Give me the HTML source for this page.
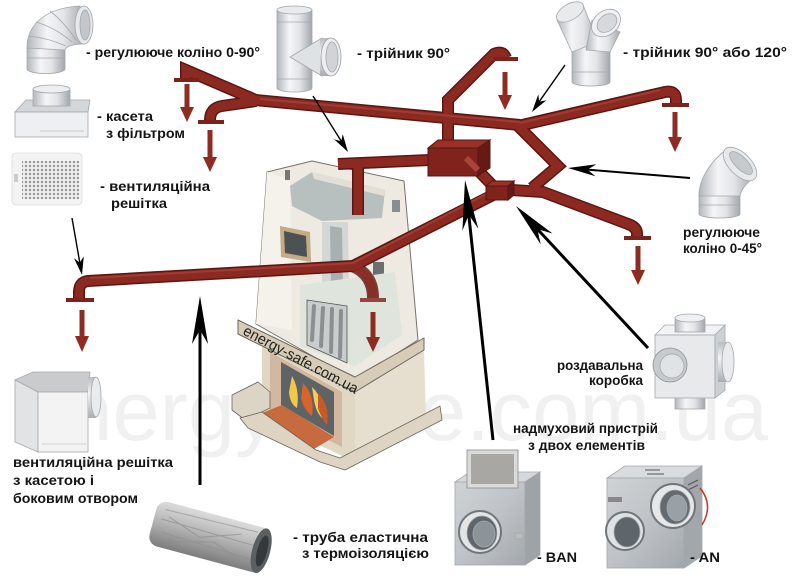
<!DOCTYPE html>
<html><head><meta charset="utf-8"><style>
html,body{margin:0;padding:0;background:#fff;}
svg{display:block;}
text{font-family:"Liberation Sans",Arial,sans-serif;}
</style></head><body>
<svg width="800" height="581" viewBox="0 0 800 581" xmlns="http://www.w3.org/2000/svg">
<defs>
<linearGradient id="mv" x1="0" x2="1" y1="0" y2="0">
<stop offset="0" stop-color="#b2b7bb"/><stop offset=".35" stop-color="#f4f5f6"/><stop offset=".65" stop-color="#e2e4e6"/><stop offset="1" stop-color="#a2a7ac"/>
</linearGradient>
<linearGradient id="mh" x1="0" x2="0" y1="0" y2="1">
<stop offset="0" stop-color="#b8bcc0"/><stop offset=".4" stop-color="#f3f4f5"/><stop offset="1" stop-color="#a9aeb2"/>
</linearGradient>
<linearGradient id="steel" x1="0" x2="1" y1="0" y2="1">
<stop offset="0" stop-color="#cfd3d6"/><stop offset=".5" stop-color="#bfc3c7"/><stop offset="1" stop-color="#a3a8ac"/>
</linearGradient>
<linearGradient id="flex" x1="0" x2="0" y1="0" y2="1">
<stop offset="0" stop-color="#dcdcdc"/><stop offset=".45" stop-color="#b5b5b5"/><stop offset="1" stop-color="#7d7d7d"/>
</linearGradient>
<pattern id="dots" width="4" height="4" patternUnits="userSpaceOnUse"><rect width="4" height="4" fill="#ebebeb"/><circle cx="2" cy="2" r="1.1" fill="#8c8c8c"/></pattern>
</defs>

<!-- watermark -->
<text x="18" y="440" font-size="84" fill="#f0f0f0" textLength="750" lengthAdjust="spacingAndGlyphs">energy-safe.com.ua</text>

<!-- ===== FIREPLACE ===== -->
<g stroke-linejoin="round">
<polygon points="267,172 312,161 404,181 418,340 355,380 256,324" fill="#eeeae1" stroke="#77716a" stroke-width="1"/>
<polygon points="267,172 290,180 292,330 256,324" fill="#f5f2eb"/>
<polygon points="290,186 312,172 385,190 382,218 322,221 292,206" fill="#b7bfbf"/>
<polygon points="312,172 385,190 384,196 314,179" fill="#e2dfd6"/>
<rect x="285" y="170" width="5" height="10" fill="#777"/>
<rect x="392" y="200" width="8" height="12" fill="#8a8d8d"/>
<polygon points="280,226 310,232 311,262 281,257" fill="#c2ab85"/>
<polygon points="284,231 306,236 307,257 285,253" fill="#4c5253"/>
<polygon points="322,222 348,222 349,292 322,292" fill="#d3d7d6"/>
<polygon points="330,226 342,228 343,288 331,288" fill="#a9b0b1"/>
<rect x="373" y="262" width="11" height="20" fill="#6a7071"/>
<polygon points="300,285 395,272 402,335 355,366 300,346" fill="#dfe4dc"/>
<polygon points="307,300 347,306 347,363 307,345" fill="#c9cdcd" stroke="#555" stroke-width=".8"/>
<g stroke="#8a9090" stroke-width="4" stroke-linecap="round">
<line x1="314" y1="306" x2="312" y2="340"/><line x1="323" y1="308" x2="321" y2="346"/><line x1="332" y1="309" x2="331" y2="352"/><line x1="341" y1="311" x2="340" y2="357"/>
</g>
<polygon points="262,338 355,392 355,462 262,418" fill="#e0d7c5"/>
<polygon points="270,352 342,392 342,447 270,410" fill="#d3b8a1"/>
<polygon points="281,362 334,392 334,436 281,405" fill="#5e6465"/>
<path d="M292,376 Q300,390 297,408 Q290,404 289,392 Z" fill="#f0c84a"/>
<path d="M303,383 Q315,395 312,416 Q304,410 301,398 Z" fill="#d8642c"/>
<path d="M312,387 Q324,398 322,418 Q316,412 314,400 Z" fill="#f2cf5a"/>
<path d="M318,393 Q330,405 327,425 Q321,418 318,408 Z" fill="#c75a2a"/>
<polygon points="355,392 424,350 426,420 355,462" fill="#e6dfd0"/>
<polygon points="232,395 258,382 270,392 270,408 245,420 232,410" fill="#dcd4c4" stroke="#6d655a" stroke-width=".8"/>
<polygon points="262,413 282,405 334,437 314,449" fill="#c76a3d"/>
<polygon points="240,418 262,412 316,450 340,458 440,406 442,420 345,470 320,462 248,428" fill="#ddd4c3" stroke="#6d655a" stroke-width=".8"/>
<!-- ledge band on top -->
<polygon points="238,320 355,377 424,338 424,350 355,392 238,334" fill="#d6ccb8" stroke="#6d655a" stroke-width="1"/>
<text x="242" y="334" font-size="15" fill="#1e1e1e" transform="rotate(28 242 334)" textLength="128" lengthAdjust="spacingAndGlyphs">energy-safe.com.ua</text>
</g>

<!-- ===== PIPES ===== -->
<g fill="none" stroke-linejoin="miter" stroke-linecap="butt">
<g stroke="#5a1612" stroke-width="12">
<path d="M186,80 L186,70 L258,101"/>
<path d="M256,101 L222,106 Q210,108 210,120"/>
<path d="M255,100 L520,125"/>
<path d="M518,126 L665,92 Q676,90 676,100 L676,104"/>
<path d="M518,126 L558,166 L532,188"/>
<path d="M512,190 L543,192 L628,224 Q637,227 637,234 L637,237"/>
<path d="M448,145 L448,100 L494,54 Q503,50 506,58"/>
<path d="M338,164 L430,160"/>
<path d="M358,162 L358,215"/>
<path d="M466,158 L497,190"/>
<path d="M495,194 L353,266 L88,281 Q79,282 79,292 L79,298"/>
<path d="M352,266 Q373,274 373,298" opacity=".8"/>
</g>
<g stroke="#8c2a22" stroke-width="9">
<path d="M186,80 L186,70 L258,101"/>
<path d="M256,101 L222,106 Q210,108 210,120"/>
<path d="M255,100 L520,125"/>
<path d="M518,126 L665,92 Q676,90 676,100 L676,104"/>
<path d="M518,126 L558,166 L532,188"/>
<path d="M512,190 L543,192 L628,224 Q637,227 637,234 L637,237"/>
<path d="M448,145 L448,100 L494,54 Q503,50 506,58"/>
<path d="M338,164 L430,160"/>
<path d="M358,162 L358,215"/>
<path d="M466,158 L497,190"/>
<path d="M495,194 L353,266 L88,281 Q79,282 79,292 L79,298"/>
<path d="M352,266 Q373,274 373,298" opacity=".8"/>
</g>
<g stroke="#a8443a" stroke-width="2" opacity=".7">
<path d="M260,99 L520,122"/>
<path d="M520,123 L660,90"/>
<path d="M490,192 L353,263 L90,278"/>
</g>
</g>
<g fill="#7a221b">
<rect x="174" y="78" width="25" height="4"/>
<rect x="198" y="120" width="26" height="4"/>
<rect x="494" y="57" width="24" height="4"/>
<rect x="662" y="103" width="27" height="4"/>
<rect x="624" y="236" width="27" height="4"/>
<rect x="66" y="298" width="28" height="4"/>
<rect x="360" y="298" width="26" height="4" opacity=".8"/>
</g>
<!-- boxes -->
<polygon points="428,148 438,140 490,140 478,148" fill="#9a3027" stroke="#5a1612"/>
<rect x="428" y="148" width="50" height="28" fill="#7f231c" stroke="#5a1612"/>
<polygon points="478,148 490,140 490,168 478,176" fill="#661a15" stroke="#5a1612"/>
<line x1="466" y1="158" x2="478" y2="170" stroke="#a8443a" stroke-width="6"/>
<polygon points="486,186 492,181 514,181 508,186" fill="#9a3027" stroke="#5a1612"/>
<rect x="486" y="186" width="22" height="14" fill="#7f231c" stroke="#5a1612"/>
<polygon points="508,186 514,181 514,195 508,200" fill="#661a15" stroke="#5a1612"/>

<!-- red arrows -->
<g fill="#8e2b22">
<rect x="184.5" y="84" width="5" height="24"/><polygon points="180,107 194,107 187,122"/>
<rect x="207.5" y="130" width="5" height="28"/><polygon points="203,157 217,157 210,172"/>
<rect x="502.5" y="72" width="5" height="24"/><polygon points="498,95 512,95 505,110"/>
<rect x="672.5" y="112" width="5" height="26"/><polygon points="668,137 682,137 675,152"/>
<rect x="635.5" y="246" width="5" height="25"/><polygon points="631,270 645,270 638,285"/>
<rect x="79.5" y="310" width="5" height="27"/><polygon points="75,336 89,336 82,352"/>
<rect x="370.5" y="312" width="5" height="26"/><polygon points="366,337 380,337 373,352"/>
</g>

<!-- ===== PRODUCTS ===== -->
<g stroke="#a3a8ad" stroke-width=".8">
<!-- elbow 90 -->
<path d="M27,46 L27,69 A19,4.5 0 0 0 65,69 L65,46 Z" fill="url(#mv)"/>
<path d="M27,48 C27,24 46,8 80,6 L84,44 C74,44 66,46 65,50 Z" fill="url(#mv)"/>
<path d="M29,36 Q48,38 66,46 M36,22 Q56,28 72,42 M50,11 Q64,22 76,40" fill="none"/>
<line x1="27" y1="58" x2="65" y2="58"/>
<ellipse cx="84" cy="25" rx="9" ry="19" fill="#e6e8ea"/>
<ellipse cx="85" cy="25" rx="5" ry="15" fill="#c3c7ca"/>

<!-- cassette -->
<polygon points="15,112 26,100 90,100 88,112" fill="#d4d7d9"/>
<rect x="15" y="112" width="73" height="25" fill="#eeeff0"/>
<line x1="40" y1="131" x2="84" y2="131" stroke="#bbb"/>
<rect x="33" y="89" width="37" height="17" fill="url(#mv)"/>
<ellipse cx="51.5" cy="89" rx="18.5" ry="4" fill="#eceef0"/>

<!-- grille -->
<rect x="12" y="153" width="70" height="52" rx="4" fill="#f3f3f3" stroke="#dcdcdc"/>
<rect x="22" y="161" width="57" height="38" fill="url(#dots)" stroke="none"/>
<rect x="14" y="174" width="4" height="8" fill="#ccc" stroke="none"/>

<!-- tee 90 -->
<path d="M277,10 L277,88 A17.5,4 0 0 0 312,88 L312,10 Z" fill="url(#mv)"/>
<ellipse cx="294.5" cy="10" rx="17.5" ry="4" fill="#e8eaec"/>
<line x1="277" y1="22" x2="312" y2="22"/><line x1="277" y1="79" x2="312" y2="79"/>
<path d="M290,57 L322,38 L322,76 Z" fill="#dfe2e4"/>
<rect x="320" y="38" width="11" height="38" fill="url(#mh)" stroke="none"/>
<ellipse cx="331" cy="57" rx="10" ry="19" fill="#eceef0" stroke="#9aa0a5"/>
<ellipse cx="332" cy="57" rx="6" ry="15" fill="#d0d4d7"/>

<!-- Y tee -->
<path d="M572,46 L572,82 A19,4 0 0 0 610,82 L610,46 Z" fill="url(#mv)"/>
<line x1="572" y1="72" x2="610" y2="72"/>
<path d="M572,52 L557,20 L583,5 L598,42 Z" fill="url(#mv)"/>
<ellipse cx="570" cy="12" rx="15" ry="8" transform="rotate(-30 570 12)" fill="#e8eaec"/>
<path d="M586,50 L592,20 L620,32 L610,52 Z" fill="url(#mv)"/>
<ellipse cx="606" cy="23" rx="16" ry="12" transform="rotate(-40 606 23)" fill="#eef0f1"/>
<ellipse cx="607" cy="23" rx="11" ry="8" transform="rotate(-40 607 23)" fill="#d6d9dc"/>

<!-- elbow 45 -->
<path d="M699,192 L699,214 A20.5,4 0 0 0 740,214 L740,192 Z" fill="url(#mv)"/>
<line x1="699" y1="205" x2="740" y2="205"/>
<path d="M699,196 C699,178 712,160 726,150 L753,178 C745,185 741,190 740,196 Z" fill="url(#mv)"/>
<ellipse cx="740" cy="164" rx="11" ry="21" transform="rotate(-45 740 164)" fill="#e6e8ea"/>
<ellipse cx="741" cy="163" rx="6" ry="15" transform="rotate(-45 741 163)" fill="#c6cacd"/>

<!-- distribution box -->
<rect x="675" y="396" width="30" height="13" fill="url(#mv)"/>
<polygon points="655,335 665,325 725,325 715,335" fill="#f2f3f4"/>
<rect x="655" y="335" width="60" height="63" fill="#e7e9ea"/>
<polygon points="715,335 725,325 725,390 715,398" fill="#cdd0d3"/>
<rect x="675" y="318" width="30" height="14" fill="url(#mv)"/>
<ellipse cx="690" cy="318" rx="15" ry="4" fill="#eef0f1"/>
<circle cx="670" cy="365" r="17" fill="#c6cacd" stroke="#8b9196"/>
<circle cx="672" cy="366" r="12" fill="#e0e3e5"/>
<rect x="718" y="342" width="10" height="40" fill="url(#mh)" stroke="none"/>
<ellipse cx="728" cy="362" rx="6" ry="20" fill="#e9ebec"/>

<!-- grille with side opening -->
<polygon points="15,380 33,372 90,372 88,392 38,392" fill="#c9cbcd"/>
<polygon points="15,380 38,392 38,452 15,442" fill="#e2e3e4"/>
<rect x="38" y="392" width="50" height="60" fill="#f3f3f4"/>
<line x1="42" y1="444" x2="86" y2="444" stroke="#c4c4c4"/>
<rect x="88" y="377" width="8" height="41" fill="url(#mh)" stroke="none"/>
<ellipse cx="96" cy="397" rx="5" ry="20" fill="#e9ebec"/>

<!-- flexible tube -->
<g transform="rotate(15 210 537)" stroke="none">
<rect x="151" y="514" width="118" height="46" rx="10" fill="url(#flex)"/>
<path d="M160,522 L255,520 M158,532 L258,534 M162,545 L256,548 M165,528 L200,540 L240,526 M170,552 L215,541 L250,553" stroke="#8f8f8f" stroke-width="1" fill="none" opacity=".7"/>
<ellipse cx="263" cy="537" rx="9" ry="23" fill="#5a5f61"/>
<ellipse cx="264" cy="537" rx="5" ry="16" fill="#35393b"/>
</g>

<!-- BAN -->
<polygon points="455,482 470,472 540,472 525,482" fill="#d6d9db"/>
<rect x="455" y="482" width="70" height="83" fill="url(#steel)"/>
<polygon points="525,482 540,472 540,555 525,565" fill="#9ea3a7"/>
<rect x="467" y="450" width="51" height="38" fill="#dadada" stroke="#8d8d8d"/>
<rect x="471" y="454" width="43" height="30" fill="#a9a7a3" stroke="none"/>
<circle cx="480" cy="532" r="21" fill="#e2e4e6" stroke="#6f767b" stroke-width="2"/>
<ellipse cx="482" cy="533" rx="15" ry="17" fill="#5f666b"/>
<ellipse cx="484" cy="534" rx="11" ry="13" fill="#8d9499"/>
<rect x="515" y="533" width="8" height="6" fill="#bbb"/>

<!-- AN -->
<polygon points="607,478 625,466 702,466 684,478" fill="#d9dcde"/>
<rect x="607" y="478" width="77" height="90" fill="url(#steel)"/>
<polygon points="684,478 702,466 702,556 684,568" fill="#a2a7ab"/>
<g stroke="#555" stroke-width="1"><line x1="645" y1="470" x2="660" y2="470"/><line x1="647" y1="474" x2="664" y2="474"/><line x1="688" y1="485" x2="698" y2="480"/><line x1="688" y1="490" x2="698" y2="485"/></g>
<rect x="608" y="497" width="14" height="5" fill="#888" stroke="none"/>
<circle cx="625" cy="531" r="19" fill="#dfe2e4" stroke="#6f767b" stroke-width="2"/>
<ellipse cx="627" cy="532" rx="13" ry="15" fill="#5f666b"/>
<circle cx="673" cy="506" r="22" fill="#e5e7e9" stroke="#6f767b" stroke-width="2"/>
<ellipse cx="675" cy="507" rx="15" ry="17" fill="#646b70"/>
<ellipse cx="677" cy="508" rx="10" ry="13" fill="#9aa1a6"/>
<path d="M700,488 Q714,505 702,525" stroke="#c0392b" fill="none" stroke-width="1.5"/>
</g>

<!-- ===== BLACK ARROWS ===== -->
<g stroke="#000" fill="none">
<line x1="72" y1="218" x2="79.8" y2="262.6" stroke-width="1.4"/>
<line x1="313" y1="96" x2="341.3" y2="141.3" stroke-width="1.4"/>
<line x1="565" y1="65" x2="539.2" y2="101.7" stroke-width="1.4"/>
<line x1="690" y1="178" x2="587.5" y2="169.6" stroke-width="2"/>
<line x1="200" y1="485" x2="200" y2="330" stroke-width="3"/>
<line x1="493" y1="440" x2="468.75" y2="214.8" stroke-width="3"/>
<line x1="648" y1="348" x2="537.4" y2="229.1" stroke-width="3"/>
</g>
<g fill="#000">
<polygon points="82,275 74,258.2 79.8,262.6 83.8,256.4"/>
<polygon points="348,152 334.2,139.4 341.3,141.3 342.7,134.1"/>
<polygon points="532,112 546.4,100.2 539.2,101.7 538.3,94.4"/>
<polygon points="568,168 596.4,164.3 587.5,169.6 595.4,176.3"/>
<polygon points="200,296 208,344 200,330 192,344"/>
<polygon points="465,180 478.3,228.8 468.75,214.8 462.4,230.6"/>
<polygon points="516,206 552.5,233.5 537.4,229.1 540.7,244.4"/>
</g>

<!-- ===== LABELS ===== -->
<g font-size="13.5" font-weight="bold" fill="#141414">
<text x="86" y="57" textLength="174" lengthAdjust="spacingAndGlyphs">- регулююче коліно 0-90°</text>
<text x="97" y="121" textLength="56" lengthAdjust="spacingAndGlyphs">- касета</text>
<text x="106" y="138" textLength="79" lengthAdjust="spacingAndGlyphs">з фільтром</text>
<text x="100" y="191" textLength="110" lengthAdjust="spacingAndGlyphs">- вентиляційна</text>
<text x="111" y="208" textLength="56" lengthAdjust="spacingAndGlyphs">решітка</text>
<text x="357" y="58" textLength="93" lengthAdjust="spacingAndGlyphs">- трійник 90°</text>
<text x="623" y="57" textLength="164" lengthAdjust="spacingAndGlyphs">- трійник 90° або 120°</text>
<text x="683" y="237" textLength="77" lengthAdjust="spacingAndGlyphs">регулююче</text>
<text x="683" y="253" textLength="79" lengthAdjust="spacingAndGlyphs">коліно 0-45°</text>
<text x="557" y="370" textLength="86" lengthAdjust="spacingAndGlyphs">роздавальна</text>
<text x="589" y="385" textLength="54" lengthAdjust="spacingAndGlyphs">коробка</text>
<text x="513" y="433" textLength="145" lengthAdjust="spacingAndGlyphs">надмуховий пристрій</text>
<text x="528" y="450" textLength="117" lengthAdjust="spacingAndGlyphs">з двох елементів</text>
<text x="537" y="562" textLength="40" lengthAdjust="spacingAndGlyphs">- BAN</text>
<text x="690" y="562" textLength="30" lengthAdjust="spacingAndGlyphs">- AN</text>
<text x="13" y="467" textLength="160" lengthAdjust="spacingAndGlyphs">вентиляційна решітка</text>
<text x="13" y="485" textLength="81" lengthAdjust="spacingAndGlyphs">з касетою і</text>
<text x="13" y="503" textLength="125" lengthAdjust="spacingAndGlyphs">боковим отвором</text>
<text x="293" y="542" textLength="135" lengthAdjust="spacingAndGlyphs">- труба еластична</text>
<text x="302" y="558" textLength="127" lengthAdjust="spacingAndGlyphs">з термоізоляцією</text>
</g>
</svg>
</body></html>
